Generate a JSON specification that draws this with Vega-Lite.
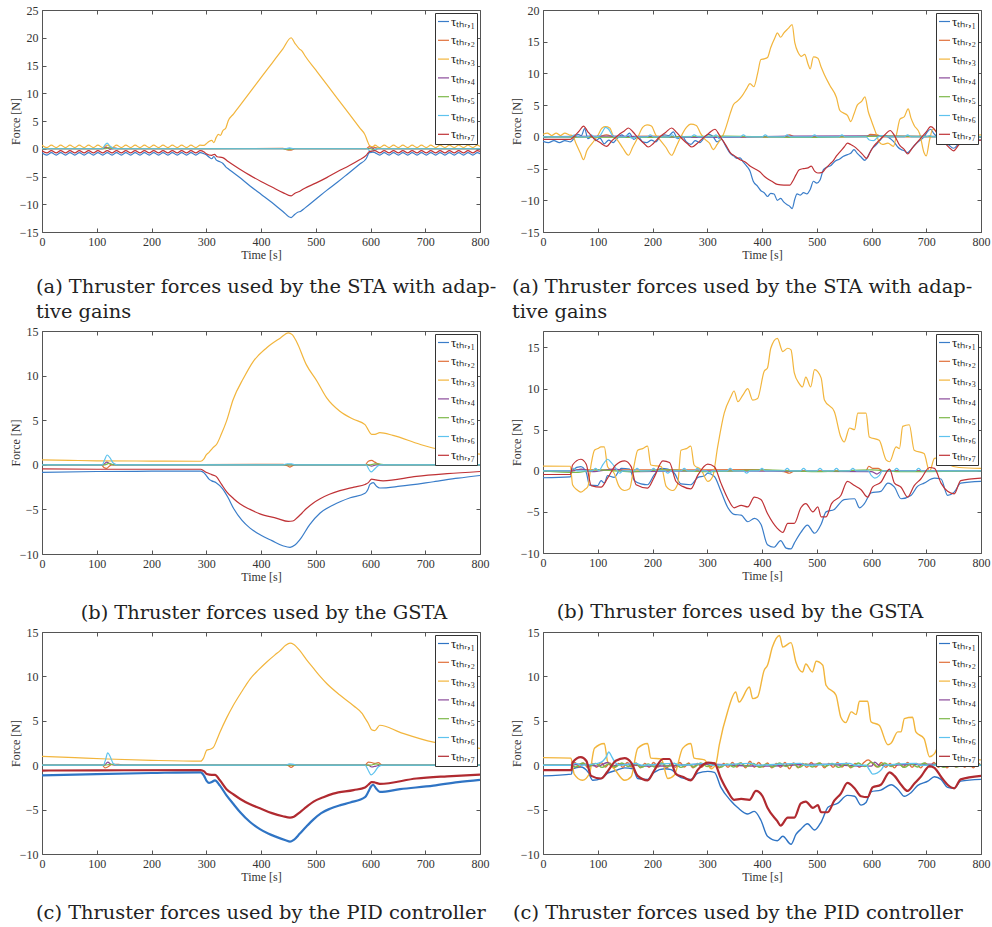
{
 "$schema": "https://vega.github.io/schema/vega-lite/v6.json",
 "background": "white",
 "padding": {"left": 8, "top": 3, "right": 2, "bottom": 2},
 "spacing": 2,
 "resolve": {"scale": {"color": "independent"}, "legend": {"color": "independent"}},
 "config": {
  "font": "Liberation Serif",
  "view": {"stroke": "#555", "strokeWidth": 1},
  "axis": {"domain": false, "grid": false, "ticks": true, "tickSize": -4, "tickColor": "#555", "tickWidth": 1, "labelFont": "Liberation Serif", "labelFontSize": 12, "labelColor": "#333", "labelPadding": 8, "labelFlush": false, "labelBound": false, "labelOverlap": false, "titleFont": "Liberation Serif", "titleFontSize": 12, "titleFontWeight": "normal", "titleColor": "#333"},
  "axisX": {"titlePadding": 2},
  "axisY": {"titlePadding": -3},
  "legend": {"orient": "top-right", "offset": 3, "padding": 2, "strokeColor": "#333", "fillColor": "white", "symbolType": "stroke", "symbolSize": 121, "symbolStrokeWidth": 1.3, "labelFont": "Liberation Serif", "labelFontSize": 13, "labelColor": "#222", "labelOffset": 1, "rowPadding": 4.8, "title": null},
  "title": {"font": "DejaVu Serif", "fontSize": 19.4, "fontWeight": "normal", "color": "#222", "frame": "group", "orient": "bottom", "offset": 22, "lineHeight": 25},
  "line": {"interpolate": "monotone", "strokeWidth": 1.2}
 },
 "datasets": {
  "p1": [
   {"s":"1","t":0,"f":-0.7},{"s":"1","t":9,"f":-1.15},{"s":"1","t":17,"f":-0.7},{"s":"1","t":26,"f":-1.15},{"s":"1","t":34,"f":-0.7},{"s":"1","t":43,"f":-1.15},{"s":"1","t":51,"f":-0.7},{"s":"1","t":60,"f":-1.15},{"s":"1","t":68,"f":-0.7},{"s":"1","t":77,"f":-1.15},{"s":"1","t":85,"f":-0.7},{"s":"1","t":94,"f":-1.15},{"s":"1","t":102,"f":-0.7},{"s":"1","t":111,"f":-1.15},{"s":"1","t":119,"f":-0.7},{"s":"1","t":128,"f":-1.15},{"s":"1","t":136,"f":-0.7},{"s":"1","t":145,"f":-1.15},{"s":"1","t":153,"f":-0.7},{"s":"1","t":162,"f":-1.15},{"s":"1","t":170,"f":-0.7},{"s":"1","t":179,"f":-1.15},{"s":"1","t":187,"f":-0.7},{"s":"1","t":196,"f":-1.15},{"s":"1","t":204,"f":-0.7},{"s":"1","t":213,"f":-1.15},{"s":"1","t":221,"f":-0.7},{"s":"1","t":230,"f":-1.15},{"s":"1","t":238,"f":-0.7},{"s":"1","t":247,"f":-1.15},{"s":"1","t":255,"f":-0.7},{"s":"1","t":264,"f":-1.15},{"s":"1","t":272,"f":-0.7},{"s":"1","t":281,"f":-1.15},{"s":"1","t":289,"f":-0.7},{"s":"1","t":296,"f":-0.9},{"s":"1","t":300,"f":-1.1},{"s":"1","t":305,"f":-1.5},{"s":"1","t":310,"f":-1.8},{"s":"1","t":314,"f":-1.4},{"s":"1","t":318,"f":-2.0},{"s":"1","t":324,"f":-2.3},{"s":"1","t":330,"f":-2.6},{"s":"1","t":336,"f":-3.3},{"s":"1","t":340,"f":-3.6},{"s":"1","t":360,"f":-5.1},{"s":"1","t":380,"f":-6.7},{"s":"1","t":400,"f":-8.2},{"s":"1","t":420,"f":-9.7},{"s":"1","t":440,"f":-11.3},{"s":"1","t":455,"f":-12.4},{"s":"1","t":462,"f":-11.8},{"s":"1","t":468,"f":-11.4},{"s":"1","t":472,"f":-11.3},{"s":"1","t":480,"f":-10.7},{"s":"1","t":500,"f":-9.1},{"s":"1","t":520,"f":-7.5},{"s":"1","t":540,"f":-6.0},{"s":"1","t":560,"f":-4.4},{"s":"1","t":580,"f":-2.8},{"s":"1","t":592,"f":-1.8},{"s":"1","t":598,"f":-0.7},{"s":"1","t":604,"f":-0.6},{"s":"1","t":608,"f":-0.7},{"s":"1","t":617,"f":-1.15},{"s":"1","t":625,"f":-0.7},{"s":"1","t":634,"f":-1.15},{"s":"1","t":642,"f":-0.7},{"s":"1","t":651,"f":-1.15},{"s":"1","t":659,"f":-0.7},{"s":"1","t":668,"f":-1.15},{"s":"1","t":676,"f":-0.7},{"s":"1","t":685,"f":-1.15},{"s":"1","t":693,"f":-0.7},{"s":"1","t":702,"f":-1.15},{"s":"1","t":710,"f":-0.7},{"s":"1","t":719,"f":-1.15},{"s":"1","t":727,"f":-0.7},{"s":"1","t":736,"f":-1.15},{"s":"1","t":744,"f":-0.7},{"s":"1","t":753,"f":-1.15},{"s":"1","t":761,"f":-0.7},{"s":"1","t":770,"f":-1.15},{"s":"1","t":778,"f":-0.7},{"s":"1","t":787,"f":-1.15},{"s":"1","t":795,"f":-0.7},{"s":"1","t":800,"f":-0.9},
   {"s":"2","t":0,"f":0},{"s":"2","t":110,"f":0},{"s":"2","t":116,"f":0.35},{"s":"2","t":122,"f":0.1},{"s":"2","t":130,"f":0.2},{"s":"2","t":140,"f":0},{"s":"2","t":440,"f":0.05},{"s":"2","t":448,"f":-0.2},{"s":"2","t":455,"f":-0.25},{"s":"2","t":462,"f":0},{"s":"2","t":592,"f":0},{"s":"2","t":598,"f":0.4},{"s":"2","t":606,"f":0.3},{"s":"2","t":612,"f":0.1},{"s":"2","t":620,"f":0},{"s":"2","t":800,"f":0},
   {"s":"3","t":0,"f":0.65},{"s":"3","t":9,"f":0.2},{"s":"3","t":17,"f":0.65},{"s":"3","t":26,"f":0.2},{"s":"3","t":34,"f":0.65},{"s":"3","t":43,"f":0.2},{"s":"3","t":51,"f":0.65},{"s":"3","t":60,"f":0.2},{"s":"3","t":68,"f":0.65},{"s":"3","t":77,"f":0.2},{"s":"3","t":85,"f":0.65},{"s":"3","t":94,"f":0.2},{"s":"3","t":102,"f":0.65},{"s":"3","t":111,"f":0.2},{"s":"3","t":119,"f":0.65},{"s":"3","t":128,"f":0.2},{"s":"3","t":136,"f":0.65},{"s":"3","t":145,"f":0.2},{"s":"3","t":153,"f":0.65},{"s":"3","t":162,"f":0.2},{"s":"3","t":170,"f":0.65},{"s":"3","t":179,"f":0.2},{"s":"3","t":187,"f":0.65},{"s":"3","t":196,"f":0.2},{"s":"3","t":204,"f":0.65},{"s":"3","t":213,"f":0.2},{"s":"3","t":221,"f":0.65},{"s":"3","t":230,"f":0.2},{"s":"3","t":238,"f":0.65},{"s":"3","t":247,"f":0.2},{"s":"3","t":255,"f":0.65},{"s":"3","t":264,"f":0.2},{"s":"3","t":272,"f":0.65},{"s":"3","t":281,"f":0.2},{"s":"3","t":289,"f":0.65},{"s":"3","t":296,"f":0.6},{"s":"3","t":300,"f":0.9},{"s":"3","t":305,"f":1.3},{"s":"3","t":310,"f":1.5},{"s":"3","t":314,"f":1.1},{"s":"3","t":318,"f":2.0},{"s":"3","t":322,"f":2.6},{"s":"3","t":326,"f":2.4},{"s":"3","t":330,"f":3.2},{"s":"3","t":336,"f":3.8},{"s":"3","t":340,"f":5.0},{"s":"3","t":350,"f":6.3},{"s":"3","t":360,"f":7.6},{"s":"3","t":380,"f":10.2},{"s":"3","t":400,"f":12.8},{"s":"3","t":420,"f":15.4},{"s":"3","t":440,"f":18.0},{"s":"3","t":455,"f":20.0},{"s":"3","t":462,"f":19.0},{"s":"3","t":470,"f":18.0},{"s":"3","t":475,"f":17.6},{"s":"3","t":480,"f":16.8},{"s":"3","t":500,"f":14.2},{"s":"3","t":520,"f":11.6},{"s":"3","t":540,"f":9.0},{"s":"3","t":560,"f":6.4},{"s":"3","t":580,"f":3.8},{"s":"3","t":590,"f":2.5},{"s":"3","t":594,"f":1.5},{"s":"3","t":598,"f":0.6},{"s":"3","t":604,"f":0.3},{"s":"3","t":608,"f":0.65},{"s":"3","t":617,"f":0.2},{"s":"3","t":625,"f":0.65},{"s":"3","t":634,"f":0.2},{"s":"3","t":642,"f":0.65},{"s":"3","t":651,"f":0.2},{"s":"3","t":659,"f":0.65},{"s":"3","t":668,"f":0.2},{"s":"3","t":676,"f":0.65},{"s":"3","t":685,"f":0.2},{"s":"3","t":693,"f":0.65},{"s":"3","t":702,"f":0.2},{"s":"3","t":710,"f":0.65},{"s":"3","t":719,"f":0.2},{"s":"3","t":727,"f":0.65},{"s":"3","t":736,"f":0.2},{"s":"3","t":744,"f":0.65},{"s":"3","t":753,"f":0.2},{"s":"3","t":761,"f":0.65},{"s":"3","t":770,"f":0.2},{"s":"3","t":778,"f":0.65},{"s":"3","t":787,"f":0.2},{"s":"3","t":795,"f":0.65},{"s":"3","t":800,"f":0.4},
   {"s":"4","t":0,"f":0},{"s":"4","t":112,"f":0},{"s":"4","t":118,"f":0.25},{"s":"4","t":124,"f":-0.1},{"s":"4","t":132,"f":0},{"s":"4","t":595,"f":0},{"s":"4","t":602,"f":0.15},{"s":"4","t":608,"f":-0.1},{"s":"4","t":616,"f":0},{"s":"4","t":800,"f":0},
   {"s":"5","t":0,"f":0},{"s":"5","t":115,"f":0},{"s":"5","t":122,"f":0.2},{"s":"5","t":130,"f":0},{"s":"5","t":440,"f":0},{"s":"5","t":450,"f":-0.15},{"s":"5","t":460,"f":0},{"s":"5","t":600,"f":0},{"s":"5","t":606,"f":-0.2},{"s":"5","t":615,"f":0.1},{"s":"5","t":625,"f":0},{"s":"5","t":800,"f":0},
   {"s":"6","t":0,"f":0},{"s":"6","t":110,"f":0},{"s":"6","t":115,"f":0.7},{"s":"6","t":119,"f":1.0},{"s":"6","t":124,"f":0.5},{"s":"6","t":130,"f":0.1},{"s":"6","t":140,"f":0},{"s":"6","t":445,"f":0},{"s":"6","t":452,"f":0.15},{"s":"6","t":460,"f":0},{"s":"6","t":594,"f":0},{"s":"6","t":600,"f":-0.5},{"s":"6","t":606,"f":-0.3},{"s":"6","t":612,"f":0},{"s":"6","t":800,"f":0},
   {"s":"7","t":0,"f":-0.35},{"s":"7","t":9,"f":-0.75},{"s":"7","t":17,"f":-0.35},{"s":"7","t":26,"f":-0.75},{"s":"7","t":34,"f":-0.35},{"s":"7","t":43,"f":-0.75},{"s":"7","t":51,"f":-0.35},{"s":"7","t":60,"f":-0.75},{"s":"7","t":68,"f":-0.35},{"s":"7","t":77,"f":-0.75},{"s":"7","t":85,"f":-0.35},{"s":"7","t":94,"f":-0.75},{"s":"7","t":102,"f":-0.35},{"s":"7","t":111,"f":-0.75},{"s":"7","t":119,"f":-0.35},{"s":"7","t":128,"f":-0.75},{"s":"7","t":136,"f":-0.35},{"s":"7","t":145,"f":-0.75},{"s":"7","t":153,"f":-0.35},{"s":"7","t":162,"f":-0.75},{"s":"7","t":170,"f":-0.35},{"s":"7","t":179,"f":-0.75},{"s":"7","t":187,"f":-0.35},{"s":"7","t":196,"f":-0.75},{"s":"7","t":204,"f":-0.35},{"s":"7","t":213,"f":-0.75},{"s":"7","t":221,"f":-0.35},{"s":"7","t":230,"f":-0.75},{"s":"7","t":238,"f":-0.35},{"s":"7","t":247,"f":-0.75},{"s":"7","t":255,"f":-0.35},{"s":"7","t":264,"f":-0.75},{"s":"7","t":272,"f":-0.35},{"s":"7","t":281,"f":-0.75},{"s":"7","t":289,"f":-0.35},{"s":"7","t":296,"f":-0.6},{"s":"7","t":300,"f":-0.9},{"s":"7","t":310,"f":-1.2},{"s":"7","t":315,"f":-1.0},{"s":"7","t":320,"f":-1.45},{"s":"7","t":330,"f":-1.6},{"s":"7","t":340,"f":-2.3},{"s":"7","t":360,"f":-3.6},{"s":"7","t":380,"f":-4.8},{"s":"7","t":400,"f":-5.9},{"s":"7","t":420,"f":-6.9},{"s":"7","t":440,"f":-7.9},{"s":"7","t":455,"f":-8.5},{"s":"7","t":462,"f":-8.0},{"s":"7","t":470,"f":-7.7},{"s":"7","t":480,"f":-7.1},{"s":"7","t":500,"f":-6.2},{"s":"7","t":520,"f":-5.2},{"s":"7","t":540,"f":-4.1},{"s":"7","t":560,"f":-3.1},{"s":"7","t":580,"f":-2.0},{"s":"7","t":592,"f":-1.2},{"s":"7","t":598,"f":-0.5},{"s":"7","t":604,"f":-0.4},{"s":"7","t":608,"f":-0.35},{"s":"7","t":617,"f":-0.75},{"s":"7","t":625,"f":-0.35},{"s":"7","t":634,"f":-0.75},{"s":"7","t":642,"f":-0.35},{"s":"7","t":651,"f":-0.75},{"s":"7","t":659,"f":-0.35},{"s":"7","t":668,"f":-0.75},{"s":"7","t":676,"f":-0.35},{"s":"7","t":685,"f":-0.75},{"s":"7","t":693,"f":-0.35},{"s":"7","t":702,"f":-0.75},{"s":"7","t":710,"f":-0.35},{"s":"7","t":719,"f":-0.75},{"s":"7","t":727,"f":-0.35},{"s":"7","t":736,"f":-0.75},{"s":"7","t":744,"f":-0.35},{"s":"7","t":753,"f":-0.75},{"s":"7","t":761,"f":-0.35},{"s":"7","t":770,"f":-0.75},{"s":"7","t":778,"f":-0.35},{"s":"7","t":787,"f":-0.75},{"s":"7","t":795,"f":-0.35},{"s":"7","t":800,"f":-0.5}
  ],
  "p2": [
   {"s":"1","t":0,"f":-0.7},{"s":"1","t":10,"f":-0.9},{"s":"1","t":20,"f":-0.6},{"s":"1","t":30,"f":-0.9},{"s":"1","t":40,"f":-0.6},{"s":"1","t":50,"f":-0.8},{"s":"1","t":56,"f":-0.3},{"s":"1","t":64,"f":0.4},{"s":"1","t":70,"f":0.2},{"s":"1","t":76,"f":1.3},{"s":"1","t":82,"f":-0.3},{"s":"1","t":90,"f":0.1},{"s":"1","t":96,"f":-0.6},{"s":"1","t":104,"f":-0.2},{"s":"1","t":112,"f":-1.1},{"s":"1","t":120,"f":-0.5},{"s":"1","t":128,"f":-0.9},{"s":"1","t":136,"f":-0.2},{"s":"1","t":144,"f":0.3},{"s":"1","t":150,"f":0.0},{"s":"1","t":158,"f":0.6},{"s":"1","t":166,"f":-0.4},{"s":"1","t":174,"f":0.0},{"s":"1","t":182,"f":-0.8},{"s":"1","t":190,"f":-0.9},{"s":"1","t":198,"f":-0.5},{"s":"1","t":206,"f":-0.8},{"s":"1","t":214,"f":0.0},{"s":"1","t":222,"f":0.3},{"s":"1","t":230,"f":0.2},{"s":"1","t":238,"f":0.8},{"s":"1","t":246,"f":-0.3},{"s":"1","t":254,"f":0.1},{"s":"1","t":262,"f":-0.8},{"s":"1","t":270,"f":-1.2},{"s":"1","t":278,"f":-0.6},{"s":"1","t":286,"f":-0.9},{"s":"1","t":294,"f":-0.2},{"s":"1","t":302,"f":0.4},{"s":"1","t":310,"f":0.1},{"s":"1","t":318,"f":-0.8},{"s":"1","t":326,"f":-0.4},{"s":"1","t":334,"f":-1.5},{"s":"1","t":342,"f":-2.6},{"s":"1","t":348,"f":-3.0},{"s":"1","t":354,"f":-3.4},{"s":"1","t":360,"f":-3.3},{"s":"1","t":366,"f":-4.0},{"s":"1","t":372,"f":-4.6},{"s":"1","t":378,"f":-5.4},{"s":"1","t":384,"f":-7.0},{"s":"1","t":392,"f":-7.8},{"s":"1","t":398,"f":-8.5},{"s":"1","t":404,"f":-8.8},{"s":"1","t":410,"f":-9.4},{"s":"1","t":416,"f":-8.9},{"s":"1","t":422,"f":-9.0},{"s":"1","t":428,"f":-10.0},{"s":"1","t":434,"f":-9.7},{"s":"1","t":440,"f":-10.3},{"s":"1","t":446,"f":-10.7},{"s":"1","t":450,"f":-10.9},{"s":"1","t":455,"f":-11.3},{"s":"1","t":460,"f":-9.8},{"s":"1","t":464,"f":-9.0},{"s":"1","t":470,"f":-9.2},{"s":"1","t":476,"f":-8.8},{"s":"1","t":482,"f":-9.0},{"s":"1","t":488,"f":-8.3},{"s":"1","t":494,"f":-7.0},{"s":"1","t":500,"f":-7.3},{"s":"1","t":506,"f":-6.8},{"s":"1","t":512,"f":-5.2},{"s":"1","t":518,"f":-4.8},{"s":"1","t":526,"f":-4.5},{"s":"1","t":534,"f":-3.8},{"s":"1","t":542,"f":-3.5},{"s":"1","t":548,"f":-3.1},{"s":"1","t":556,"f":-2.8},{"s":"1","t":562,"f":-2.6},{"s":"1","t":568,"f":-2.0},{"s":"1","t":574,"f":-2.6},{"s":"1","t":580,"f":-3.1},{"s":"1","t":588,"f":-3.7},{"s":"1","t":594,"f":-3.0},{"s":"1","t":600,"f":-2.0},{"s":"1","t":608,"f":-1.3},{"s":"1","t":616,"f":-0.5},{"s":"1","t":624,"f":0.2},{"s":"1","t":630,"f":0.0},{"s":"1","t":636,"f":-0.4},{"s":"1","t":642,"f":-0.9},{"s":"1","t":648,"f":-1.6},{"s":"1","t":654,"f":-2.0},{"s":"1","t":660,"f":-2.2},{"s":"1","t":666,"f":-2.5},{"s":"1","t":672,"f":-2.0},{"s":"1","t":680,"f":-1.2},{"s":"1","t":688,"f":-0.6},{"s":"1","t":696,"f":0.0},{"s":"1","t":702,"f":0.8},{"s":"1","t":708,"f":1.2},{"s":"1","t":714,"f":0.5},{"s":"1","t":720,"f":0.0},{"s":"1","t":730,"f":-0.5},{"s":"1","t":740,"f":-1.2},{"s":"1","t":750,"f":-1.8},{"s":"1","t":760,"f":-1.0},{"s":"1","t":775,"f":-0.5},{"s":"1","t":800,"f":-0.5},
   {"s":"2","t":0,"f":0},{"s":"2","t":100,"f":0},{"s":"2","t":116,"f":0.3},{"s":"2","t":130,"f":0},{"s":"2","t":200,"f":0.1},{"s":"2","t":300,"f":-0.1},{"s":"2","t":440,"f":0},{"s":"2","t":450,"f":0.3},{"s":"2","t":460,"f":0},{"s":"2","t":590,"f":0},{"s":"2","t":598,"f":0.4},{"s":"2","t":610,"f":0.3},{"s":"2","t":620,"f":0},{"s":"2","t":800,"f":0},
   {"s":"3","t":0,"f":0.4},{"s":"3","t":8,"f":0.6},{"s":"3","t":16,"f":0.2},{"s":"3","t":24,"f":0.6},{"s":"3","t":32,"f":0.2},{"s":"3","t":40,"f":0.6},{"s":"3","t":48,"f":0.3},{"s":"3","t":54,"f":0.2},{"s":"3","t":60,"f":-1.0},{"s":"3","t":68,"f":-2.5},{"s":"3","t":74,"f":-3.6},{"s":"3","t":80,"f":-2.2},{"s":"3","t":90,"f":-1.0},{"s":"3","t":100,"f":0.2},{"s":"3","t":108,"f":1.4},{"s":"3","t":114,"f":1.6},{"s":"3","t":122,"f":1.4},{"s":"3","t":128,"f":0.2},{"s":"3","t":136,"f":-0.5},{"s":"3","t":146,"f":-1.8},{"s":"3","t":156,"f":-2.9},{"s":"3","t":164,"f":-1.6},{"s":"3","t":172,"f":-0.3},{"s":"3","t":182,"f":1.5},{"s":"3","t":190,"f":1.9},{"s":"3","t":198,"f":1.7},{"s":"3","t":206,"f":0.3},{"s":"3","t":214,"f":-0.5},{"s":"3","t":224,"f":-1.6},{"s":"3","t":235,"f":-2.9},{"s":"3","t":243,"f":-1.6},{"s":"3","t":250,"f":-0.3},{"s":"3","t":262,"f":1.5},{"s":"3","t":270,"f":2.0},{"s":"3","t":280,"f":1.8},{"s":"3","t":288,"f":0.5},{"s":"3","t":296,"f":-0.4},{"s":"3","t":304,"f":-1.0},{"s":"3","t":311,"f":-2.0},{"s":"3","t":318,"f":-1.2},{"s":"3","t":325,"f":-0.3},{"s":"3","t":330,"f":0.5},{"s":"3","t":336,"f":2.0},{"s":"3","t":342,"f":3.7},{"s":"3","t":348,"f":5.1},{"s":"3","t":356,"f":5.7},{"s":"3","t":364,"f":6.5},{"s":"3","t":372,"f":7.6},{"s":"3","t":378,"f":8.4},{"s":"3","t":385,"f":7.9},{"s":"3","t":392,"f":10.0},{"s":"3","t":398,"f":12.2},{"s":"3","t":404,"f":12.3},{"s":"3","t":410,"f":12.5},{"s":"3","t":416,"f":14.1},{"s":"3","t":424,"f":15.7},{"s":"3","t":428,"f":16.4},{"s":"3","t":434,"f":15.7},{"s":"3","t":440,"f":16.4},{"s":"3","t":448,"f":17.1},{"s":"3","t":455,"f":17.7},{"s":"3","t":460,"f":14.8},{"s":"3","t":466,"f":13.3},{"s":"3","t":472,"f":12.7},{"s":"3","t":478,"f":13.0},{"s":"3","t":484,"f":11.5},{"s":"3","t":488,"f":10.7},{"s":"3","t":494,"f":12.6},{"s":"3","t":502,"f":12.4},{"s":"3","t":508,"f":11.0},{"s":"3","t":514,"f":9.8},{"s":"3","t":524,"f":8.1},{"s":"3","t":536,"f":6.2},{"s":"3","t":542,"f":4.2},{"s":"3","t":548,"f":3.8},{"s":"3","t":556,"f":3.4},{"s":"3","t":562,"f":2.4},{"s":"3","t":568,"f":3.6},{"s":"3","t":574,"f":5.0},{"s":"3","t":582,"f":5.6},{"s":"3","t":588,"f":6.3},{"s":"3","t":594,"f":4.0},{"s":"3","t":600,"f":2.5},{"s":"3","t":608,"f":0.6},{"s":"3","t":614,"f":-0.8},{"s":"3","t":620,"f":-1.2},{"s":"3","t":630,"f":-1.0},{"s":"3","t":640,"f":-1.5},{"s":"3","t":646,"f":0.5},{"s":"3","t":652,"f":2.8},{"s":"3","t":660,"f":3.2},{"s":"3","t":667,"f":4.4},{"s":"3","t":672,"f":3.0},{"s":"3","t":678,"f":1.8},{"s":"3","t":688,"f":0.5},{"s":"3","t":696,"f":-2.5},{"s":"3","t":700,"f":-3.0},{"s":"3","t":706,"f":-0.5},{"s":"3","t":712,"f":1.2},{"s":"3","t":720,"f":0.8},{"s":"3","t":735,"f":0.2},{"s":"3","t":760,"f":0.1},{"s":"3","t":780,"f":0.2},{"s":"3","t":800,"f":0.3},
   {"s":"4","t":0,"f":0},{"s":"4","t":120,"f":0.1},{"s":"4","t":300,"f":-0.1},{"s":"4","t":450,"f":0.1},{"s":"4","t":600,"f":0.15},{"s":"4","t":800,"f":0},
   {"s":"5","t":0,"f":0},{"s":"5","t":150,"f":-0.1},{"s":"5","t":330,"f":0.1},{"s":"5","t":480,"f":-0.1},{"s":"5","t":620,"f":0.1},{"s":"5","t":800,"f":0},
   {"s":"6","t":0,"f":0},{"s":"6","t":50,"f":0},{"s":"6","t":58,"f":0.3},{"s":"6","t":64,"f":0},{"s":"6","t":82,"f":0},{"s":"6","t":88,"f":0.3},{"s":"6","t":94,"f":0},{"s":"6","t":104,"f":0.2},{"s":"6","t":110,"f":1.0},{"s":"6","t":114,"f":1.5},{"s":"6","t":120,"f":1.2},{"s":"6","t":126,"f":0.3},{"s":"6","t":132,"f":0},{"s":"6","t":150,"f":0},{"s":"6","t":156,"f":0.3},{"s":"6","t":162,"f":-0.2},{"s":"6","t":170,"f":0},{"s":"6","t":190,"f":0},{"s":"6","t":196,"f":0.3},{"s":"6","t":202,"f":0},{"s":"6","t":230,"f":0},{"s":"6","t":236,"f":0.3},{"s":"6","t":244,"f":-0.2},{"s":"6","t":252,"f":0},{"s":"6","t":270,"f":0},{"s":"6","t":276,"f":0.3},{"s":"6","t":284,"f":0},{"s":"6","t":310,"f":0},{"s":"6","t":316,"f":0.3},{"s":"6","t":322,"f":-0.3},{"s":"6","t":330,"f":0},{"s":"6","t":360,"f":0},{"s":"6","t":366,"f":0.3},{"s":"6","t":372,"f":0},{"s":"6","t":400,"f":0},{"s":"6","t":406,"f":0.3},{"s":"6","t":412,"f":0},{"s":"6","t":440,"f":0},{"s":"6","t":446,"f":0.3},{"s":"6","t":452,"f":0},{"s":"6","t":490,"f":0},{"s":"6","t":496,"f":0.3},{"s":"6","t":502,"f":0},{"s":"6","t":540,"f":0},{"s":"6","t":546,"f":0.3},{"s":"6","t":552,"f":0},{"s":"6","t":590,"f":0},{"s":"6","t":596,"f":-0.5},{"s":"6","t":604,"f":-0.6},{"s":"6","t":612,"f":0},{"s":"6","t":620,"f":0.2},{"s":"6","t":630,"f":0},{"s":"6","t":660,"f":0},{"s":"6","t":666,"f":0.3},{"s":"6","t":672,"f":0},{"s":"6","t":700,"f":0},{"s":"6","t":706,"f":0.2},{"s":"6","t":712,"f":0},{"s":"6","t":800,"f":0},
   {"s":"7","t":0,"f":-0.4},{"s":"7","t":50,"f":-0.4},{"s":"7","t":56,"f":0.0},{"s":"7","t":66,"f":0.9},{"s":"7","t":74,"f":1.7},{"s":"7","t":82,"f":0.8},{"s":"7","t":92,"f":-0.2},{"s":"7","t":104,"f":-0.9},{"s":"7","t":116,"f":-1.5},{"s":"7","t":126,"f":-0.6},{"s":"7","t":138,"f":0.3},{"s":"7","t":148,"f":0.9},{"s":"7","t":156,"f":1.4},{"s":"7","t":164,"f":0.8},{"s":"7","t":174,"f":-0.2},{"s":"7","t":184,"f":-1.0},{"s":"7","t":192,"f":-1.6},{"s":"7","t":202,"f":-1.0},{"s":"7","t":212,"f":-0.1},{"s":"7","t":224,"f":0.7},{"s":"7","t":235,"f":1.4},{"s":"7","t":244,"f":0.7},{"s":"7","t":254,"f":-0.3},{"s":"7","t":264,"f":-1.1},{"s":"7","t":272,"f":-1.6},{"s":"7","t":282,"f":-1.0},{"s":"7","t":292,"f":-0.2},{"s":"7","t":302,"f":0.5},{"s":"7","t":314,"f":1.2},{"s":"7","t":322,"f":0.3},{"s":"7","t":330,"f":-0.8},{"s":"7","t":336,"f":-1.6},{"s":"7","t":342,"f":-2.5},{"s":"7","t":350,"f":-3.0},{"s":"7","t":360,"f":-3.6},{"s":"7","t":370,"f":-4.0},{"s":"7","t":378,"f":-4.6},{"s":"7","t":386,"f":-5.0},{"s":"7","t":396,"f":-5.5},{"s":"7","t":404,"f":-6.2},{"s":"7","t":410,"f":-6.6},{"s":"7","t":418,"f":-7.0},{"s":"7","t":428,"f":-7.5},{"s":"7","t":440,"f":-7.6},{"s":"7","t":451,"f":-7.6},{"s":"7","t":456,"f":-7.0},{"s":"7","t":462,"f":-6.0},{"s":"7","t":468,"f":-5.2},{"s":"7","t":476,"f":-5.0},{"s":"7","t":484,"f":-4.9},{"s":"7","t":490,"f":-4.6},{"s":"7","t":496,"f":-5.4},{"s":"7","t":502,"f":-5.7},{"s":"7","t":510,"f":-5.6},{"s":"7","t":516,"f":-5.0},{"s":"7","t":524,"f":-4.3},{"s":"7","t":530,"f":-3.8},{"s":"7","t":536,"f":-3.0},{"s":"7","t":542,"f":-2.4},{"s":"7","t":550,"f":-1.6},{"s":"7","t":556,"f":-1.0},{"s":"7","t":562,"f":-1.2},{"s":"7","t":568,"f":-1.5},{"s":"7","t":576,"f":-2.1},{"s":"7","t":584,"f":-2.8},{"s":"7","t":591,"f":-3.4},{"s":"7","t":597,"f":-2.5},{"s":"7","t":603,"f":-1.6},{"s":"7","t":610,"f":-0.9},{"s":"7","t":616,"f":-0.4},{"s":"7","t":624,"f":0.3},{"s":"7","t":634,"f":1.0},{"s":"7","t":642,"f":0.2},{"s":"7","t":652,"f":-1.4},{"s":"7","t":660,"f":-2.0},{"s":"7","t":666,"f":-2.7},{"s":"7","t":674,"f":-1.8},{"s":"7","t":682,"f":-1.0},{"s":"7","t":692,"f":0.0},{"s":"7","t":700,"f":0.8},{"s":"7","t":708,"f":1.6},{"s":"7","t":714,"f":1.3},{"s":"7","t":722,"f":0.2},{"s":"7","t":732,"f":-0.8},{"s":"7","t":742,"f":-1.7},{"s":"7","t":750,"f":-2.2},{"s":"7","t":760,"f":-1.2},{"s":"7","t":775,"f":-0.6},{"s":"7","t":800,"f":-0.5}
  ],
  "p3": [
   {"s":"1","t":0,"f":-0.85},{"s":"1","t":100,"f":-0.75},{"s":"1","t":200,"f":-0.72},{"s":"1","t":290,"f":-0.7},{"s":"1","t":296,"f":-0.9},{"s":"1","t":300,"f":-1.2},{"s":"1","t":305,"f":-1.6},{"s":"1","t":310,"f":-1.8},{"s":"1","t":318,"f":-2.0},{"s":"1","t":330,"f":-2.7},{"s":"1","t":340,"f":-3.7},{"s":"1","t":350,"f":-4.9},{"s":"1","t":365,"f":-6.2},{"s":"1","t":380,"f":-7.1},{"s":"1","t":400,"f":-7.9},{"s":"1","t":420,"f":-8.5},{"s":"1","t":441,"f":-9.1},{"s":"1","t":453,"f":-9.25},{"s":"1","t":462,"f":-9.0},{"s":"1","t":471,"f":-8.4},{"s":"1","t":489,"f":-6.7},{"s":"1","t":508,"f":-5.4},{"s":"1","t":532,"f":-4.5},{"s":"1","t":563,"f":-3.7},{"s":"1","t":590,"f":-3.2},{"s":"1","t":595,"f":-2.8},{"s":"1","t":599,"f":-2.2},{"s":"1","t":605,"f":-2.0},{"s":"1","t":611,"f":-2.4},{"s":"1","t":617,"f":-2.6},{"s":"1","t":654,"f":-2.4},{"s":"1","t":715,"f":-1.9},{"s":"1","t":760,"f":-1.5},{"s":"1","t":800,"f":-1.2},
   {"s":"2","t":0,"f":0},{"s":"2","t":108,"f":0},{"s":"2","t":113,"f":-0.3},{"s":"2","t":118,"f":-0.4},{"s":"2","t":124,"f":-0.1},{"s":"2","t":132,"f":0.05},{"s":"2","t":140,"f":0},{"s":"2","t":440,"f":0.05},{"s":"2","t":448,"f":-0.1},{"s":"2","t":453,"f":-0.25},{"s":"2","t":460,"f":-0.05},{"s":"2","t":468,"f":0},{"s":"2","t":590,"f":0},{"s":"2","t":596,"f":0.4},{"s":"2","t":602,"f":0.5},{"s":"2","t":608,"f":0.3},{"s":"2","t":614,"f":0.1},{"s":"2","t":622,"f":0},{"s":"2","t":800,"f":0},
   {"s":"3","t":0,"f":0.55},{"s":"3","t":50,"f":0.5},{"s":"3","t":100,"f":0.45},{"s":"3","t":200,"f":0.42},{"s":"3","t":290,"f":0.4},{"s":"3","t":295,"f":0.6},{"s":"3","t":300,"f":1.1},{"s":"3","t":305,"f":1.4},{"s":"3","t":312,"f":1.9},{"s":"3","t":319,"f":2.3},{"s":"3","t":328,"f":3.5},{"s":"3","t":337,"f":4.9},{"s":"3","t":349,"f":7.3},{"s":"3","t":368,"f":9.7},{"s":"3","t":386,"f":11.6},{"s":"3","t":410,"f":13.1},{"s":"3","t":435,"f":14.2},{"s":"3","t":450,"f":14.8},{"s":"3","t":457,"f":14.6},{"s":"3","t":465,"f":13.8},{"s":"3","t":483,"f":11.2},{"s":"3","t":502,"f":9.4},{"s":"3","t":520,"f":7.5},{"s":"3","t":544,"f":6.0},{"s":"3","t":569,"f":5.1},{"s":"3","t":590,"f":4.5},{"s":"3","t":596,"f":3.9},{"s":"3","t":602,"f":3.4},{"s":"3","t":608,"f":3.4},{"s":"3","t":617,"f":3.6},{"s":"3","t":641,"f":3.3},{"s":"3","t":690,"f":2.3},{"s":"3","t":727,"f":1.7},{"s":"3","t":760,"f":1.4},{"s":"3","t":800,"f":1.2},
   {"s":"4","t":0,"f":0},{"s":"4","t":112,"f":0},{"s":"4","t":118,"f":0.3},{"s":"4","t":124,"f":0.1},{"s":"4","t":130,"f":0},{"s":"4","t":595,"f":0},{"s":"4","t":602,"f":-0.15},{"s":"4","t":610,"f":0},{"s":"4","t":800,"f":0},
   {"s":"5","t":0,"f":0},{"s":"5","t":115,"f":0},{"s":"5","t":122,"f":0.15},{"s":"5","t":130,"f":0},{"s":"5","t":600,"f":0},{"s":"5","t":608,"f":0.1},{"s":"5","t":620,"f":0.05},{"s":"5","t":630,"f":0},{"s":"5","t":800,"f":0},
   {"s":"6","t":0,"f":0},{"s":"6","t":110,"f":0},{"s":"6","t":114,"f":0.5},{"s":"6","t":119,"f":1.1},{"s":"6","t":124,"f":0.8},{"s":"6","t":130,"f":0.2},{"s":"6","t":138,"f":0},{"s":"6","t":440,"f":0},{"s":"6","t":448,"f":0.12},{"s":"6","t":456,"f":0.1},{"s":"6","t":462,"f":0},{"s":"6","t":592,"f":0},{"s":"6","t":597,"f":-0.5},{"s":"6","t":601,"f":-0.8},{"s":"6","t":607,"f":-0.5},{"s":"6","t":614,"f":-0.1},{"s":"6","t":620,"f":0},{"s":"6","t":800,"f":0},
   {"s":"7","t":0,"f":-0.45},{"s":"7","t":100,"f":-0.5},{"s":"7","t":290,"f":-0.5},{"s":"7","t":296,"f":-0.7},{"s":"7","t":302,"f":-0.9},{"s":"7","t":310,"f":-1.1},{"s":"7","t":318,"f":-1.3},{"s":"7","t":328,"f":-2.2},{"s":"7","t":337,"f":-3.0},{"s":"7","t":350,"f":-3.8},{"s":"7","t":362,"f":-4.4},{"s":"7","t":380,"f":-5.0},{"s":"7","t":398,"f":-5.5},{"s":"7","t":429,"f":-6.0},{"s":"7","t":450,"f":-6.35},{"s":"7","t":458,"f":-6.3},{"s":"7","t":465,"f":-6.0},{"s":"7","t":475,"f":-5.4},{"s":"7","t":483,"f":-4.9},{"s":"7","t":495,"f":-4.3},{"s":"7","t":508,"f":-3.8},{"s":"7","t":525,"f":-3.3},{"s":"7","t":544,"f":-2.9},{"s":"7","t":570,"f":-2.5},{"s":"7","t":590,"f":-2.2},{"s":"7","t":596,"f":-2.0},{"s":"7","t":602,"f":-1.6},{"s":"7","t":610,"f":-1.7},{"s":"7","t":623,"f":-1.8},{"s":"7","t":684,"f":-1.3},{"s":"7","t":740,"f":-1.0},{"s":"7","t":800,"f":-0.75}
  ],
  "p4": [
   {"s":"1","t":0,"f":-0.85},{"s":"1","t":50,"f":-0.75},{"s":"1","t":54,"f":0.1},{"s":"1","t":69,"f":0.5},{"s":"1","t":79,"f":-0.2},{"s":"1","t":85,"f":-1.75},{"s":"1","t":100,"f":-1.8},{"s":"1","t":106,"f":-1.2},{"s":"1","t":112,"f":-1.5},{"s":"1","t":118,"f":-0.6},{"s":"1","t":130,"f":-0.8},{"s":"1","t":143,"f":0.3},{"s":"1","t":158,"f":0.2},{"s":"1","t":167,"f":-1.2},{"s":"1","t":179,"f":-1.6},{"s":"1","t":191,"f":-1.7},{"s":"1","t":203,"f":-0.5},{"s":"1","t":216,"f":0.3},{"s":"1","t":228,"f":0.2},{"s":"1","t":240,"f":-0.3},{"s":"1","t":252,"f":-1.6},{"s":"1","t":270,"f":-1.7},{"s":"1","t":283,"f":-0.8},{"s":"1","t":295,"f":-0.6},{"s":"1","t":301,"f":-0.3},{"s":"1","t":313,"f":-0.7},{"s":"1","t":325,"f":-2.5},{"s":"1","t":337,"f":-4.4},{"s":"1","t":349,"f":-5.3},{"s":"1","t":362,"f":-5.4},{"s":"1","t":374,"f":-6.2},{"s":"1","t":386,"f":-5.8},{"s":"1","t":398,"f":-6.5},{"s":"1","t":410,"f":-9.0},{"s":"1","t":422,"f":-9.3},{"s":"1","t":434,"f":-8.5},{"s":"1","t":444,"f":-9.4},{"s":"1","t":453,"f":-9.5},{"s":"1","t":459,"f":-8.8},{"s":"1","t":471,"f":-7.5},{"s":"1","t":483,"f":-6.6},{"s":"1","t":496,"f":-7.6},{"s":"1","t":508,"f":-6.5},{"s":"1","t":517,"f":-5.0},{"s":"1","t":532,"f":-4.7},{"s":"1","t":550,"f":-3.5},{"s":"1","t":569,"f":-3.4},{"s":"1","t":578,"f":-4.5},{"s":"1","t":587,"f":-4.0},{"s":"1","t":599,"f":-2.7},{"s":"1","t":617,"f":-2.5},{"s":"1","t":630,"f":-1.5},{"s":"1","t":642,"f":-2.0},{"s":"1","t":654,"f":-3.4},{"s":"1","t":672,"f":-3.0},{"s":"1","t":684,"f":-1.9},{"s":"1","t":696,"f":-1.5},{"s":"1","t":715,"f":-0.9},{"s":"1","t":727,"f":-1.0},{"s":"1","t":739,"f":-3.0},{"s":"1","t":751,"f":-2.6},{"s":"1","t":763,"f":-1.5},{"s":"1","t":800,"f":-1.3},
   {"s":"2","t":0,"f":0},{"s":"2","t":50,"f":0},{"s":"2","t":60,"f":0.15},{"s":"2","t":120,"f":0.1},{"s":"2","t":200,"f":0.1},{"s":"2","t":380,"f":0.15},{"s":"2","t":440,"f":-0.1},{"s":"2","t":450,"f":-0.3},{"s":"2","t":460,"f":0},{"s":"2","t":590,"f":0},{"s":"2","t":595,"f":0.55},{"s":"2","t":602,"f":0.3},{"s":"2","t":612,"f":0.3},{"s":"2","t":620,"f":0},{"s":"2","t":800,"f":0},
   {"s":"3","t":0,"f":0.57},{"s":"3","t":50,"f":0.55},{"s":"3","t":54,"f":-1.7},{"s":"3","t":62,"f":-2.3},{"s":"3","t":69,"f":-2.6},{"s":"3","t":76,"f":-2.3},{"s":"3","t":82,"f":-1.9},{"s":"3","t":88,"f":0.8},{"s":"3","t":94,"f":2.5},{"s":"3","t":100,"f":2.7},{"s":"3","t":106,"f":2.9},{"s":"3","t":112,"f":2.9},{"s":"3","t":118,"f":0.5},{"s":"3","t":130,"f":-0.3},{"s":"3","t":139,"f":-1.9},{"s":"3","t":149,"f":-2.4},{"s":"3","t":158,"f":-2.2},{"s":"3","t":166,"f":0.5},{"s":"3","t":173,"f":2.5},{"s":"3","t":182,"f":2.7},{"s":"3","t":191,"f":3.0},{"s":"3","t":197,"f":0.7},{"s":"3","t":216,"f":0.5},{"s":"3","t":225,"f":-1.9},{"s":"3","t":237,"f":-2.4},{"s":"3","t":246,"f":-1.6},{"s":"3","t":252,"f":2.5},{"s":"3","t":262,"f":2.7},{"s":"3","t":270,"f":3.0},{"s":"3","t":276,"f":0.7},{"s":"3","t":289,"f":0.1},{"s":"3","t":301,"f":-1.3},{"s":"3","t":310,"f":-0.7},{"s":"3","t":319,"f":2.9},{"s":"3","t":331,"f":7.0},{"s":"3","t":343,"f":9.0},{"s":"3","t":349,"f":9.7},{"s":"3","t":356,"f":8.4},{"s":"3","t":365,"f":9.2},{"s":"3","t":374,"f":10.0},{"s":"3","t":383,"f":8.6},{"s":"3","t":392,"f":8.8},{"s":"3","t":404,"f":12.1},{"s":"3","t":410,"f":12.5},{"s":"3","t":416,"f":14.9},{"s":"3","t":428,"f":16.1},{"s":"3","t":438,"f":14.5},{"s":"3","t":447,"f":14.9},{"s":"3","t":453,"f":14.7},{"s":"3","t":459,"f":11.9},{"s":"3","t":468,"f":10.6},{"s":"3","t":474,"f":10.2},{"s":"3","t":480,"f":11.4},{"s":"3","t":489,"f":10.2},{"s":"3","t":496,"f":12.3},{"s":"3","t":508,"f":11.3},{"s":"3","t":514,"f":8.6},{"s":"3","t":532,"f":7.2},{"s":"3","t":544,"f":4.1},{"s":"3","t":550,"f":3.5},{"s":"3","t":560,"f":5.2},{"s":"3","t":569,"f":5.0},{"s":"3","t":575,"f":7.0},{"s":"3","t":590,"f":7.0},{"s":"3","t":596,"f":4.1},{"s":"3","t":614,"f":3.7},{"s":"3","t":627,"f":1.3},{"s":"3","t":633,"f":1.1},{"s":"3","t":645,"f":2.9},{"s":"3","t":651,"f":2.7},{"s":"3","t":657,"f":5.4},{"s":"3","t":669,"f":5.6},{"s":"3","t":678,"f":2.5},{"s":"3","t":696,"f":2.1},{"s":"3","t":706,"f":-0.1},{"s":"3","t":715,"f":1.5},{"s":"3","t":725,"f":1.6},{"s":"3","t":740,"f":0.8},{"s":"3","t":760,"f":0.4},{"s":"3","t":800,"f":0.3},
   {"s":"4","t":0,"f":0},{"s":"4","t":55,"f":0},{"s":"4","t":70,"f":0.2},{"s":"4","t":90,"f":-0.1},{"s":"4","t":130,"f":0.2},{"s":"4","t":160,"f":-0.1},{"s":"4","t":300,"f":0},{"s":"4","t":600,"f":-0.1},{"s":"4","t":610,"f":-0.4},{"s":"4","t":620,"f":0},{"s":"4","t":800,"f":0},
   {"s":"5","t":0,"f":0},{"s":"5","t":60,"f":-0.2},{"s":"5","t":100,"f":0.1},{"s":"5","t":160,"f":-0.1},{"s":"5","t":220,"f":0.1},{"s":"5","t":300,"f":-0.1},{"s":"5","t":400,"f":0.1},{"s":"5","t":500,"f":-0.1},{"s":"5","t":600,"f":0.1},{"s":"5","t":650,"f":-0.1},{"s":"5","t":800,"f":0},
   {"s":"6","t":0,"f":0},{"s":"6","t":50,"f":0},{"s":"6","t":56,"f":0.3},{"s":"6","t":62,"f":0},{"s":"6","t":90,"f":0},{"s":"6","t":96,"f":0.3},{"s":"6","t":102,"f":0},{"s":"6","t":110,"f":0.8},{"s":"6","t":118,"f":1.4},{"s":"6","t":126,"f":0.9},{"s":"6","t":134,"f":0.2},{"s":"6","t":140,"f":-0.3},{"s":"6","t":146,"f":0},{"s":"6","t":166,"f":0},{"s":"6","t":172,"f":0.3},{"s":"6","t":178,"f":0},{"s":"6","t":196,"f":0},{"s":"6","t":202,"f":0.3},{"s":"6","t":208,"f":0},{"s":"6","t":222,"f":0},{"s":"6","t":228,"f":-0.3},{"s":"6","t":234,"f":0},{"s":"6","t":252,"f":0},{"s":"6","t":258,"f":0.3},{"s":"6","t":264,"f":0},{"s":"6","t":276,"f":0},{"s":"6","t":282,"f":0.3},{"s":"6","t":288,"f":0},{"s":"6","t":298,"f":0},{"s":"6","t":304,"f":-0.3},{"s":"6","t":310,"f":0},{"s":"6","t":336,"f":0},{"s":"6","t":342,"f":0.3},{"s":"6","t":348,"f":0},{"s":"6","t":366,"f":0},{"s":"6","t":372,"f":-0.3},{"s":"6","t":378,"f":0},{"s":"6","t":394,"f":0},{"s":"6","t":400,"f":0.3},{"s":"6","t":406,"f":0},{"s":"6","t":440,"f":0},{"s":"6","t":446,"f":0.3},{"s":"6","t":452,"f":0},{"s":"6","t":470,"f":0},{"s":"6","t":476,"f":0.3},{"s":"6","t":482,"f":0},{"s":"6","t":500,"f":0},{"s":"6","t":506,"f":0.3},{"s":"6","t":512,"f":0},{"s":"6","t":530,"f":0},{"s":"6","t":536,"f":0.3},{"s":"6","t":542,"f":0},{"s":"6","t":560,"f":0},{"s":"6","t":566,"f":0.3},{"s":"6","t":572,"f":0},{"s":"6","t":594,"f":0},{"s":"6","t":600,"f":-0.6},{"s":"6","t":606,"f":-0.9},{"s":"6","t":614,"f":-0.6},{"s":"6","t":620,"f":0},{"s":"6","t":640,"f":0},{"s":"6","t":646,"f":0.3},{"s":"6","t":652,"f":0},{"s":"6","t":680,"f":0},{"s":"6","t":686,"f":0.3},{"s":"6","t":692,"f":0},{"s":"6","t":800,"f":0},
   {"s":"7","t":0,"f":-0.45},{"s":"7","t":50,"f":-0.45},{"s":"7","t":54,"f":0.7},{"s":"7","t":69,"f":1.4},{"s":"7","t":79,"f":0.8},{"s":"7","t":88,"f":-1.8},{"s":"7","t":106,"f":-2.0},{"s":"7","t":118,"f":-0.9},{"s":"7","t":133,"f":0.7},{"s":"7","t":149,"f":1.2},{"s":"7","t":161,"f":0.5},{"s":"7","t":170,"f":-1.7},{"s":"7","t":191,"f":-2.1},{"s":"7","t":203,"f":-0.8},{"s":"7","t":219,"f":1.2},{"s":"7","t":231,"f":1.0},{"s":"7","t":243,"f":-1.3},{"s":"7","t":255,"f":-1.9},{"s":"7","t":270,"f":-2.2},{"s":"7","t":283,"f":-0.5},{"s":"7","t":301,"f":0.8},{"s":"7","t":313,"f":0.5},{"s":"7","t":325,"f":-1.5},{"s":"7","t":337,"f":-3.3},{"s":"7","t":349,"f":-4.5},{"s":"7","t":362,"f":-4.2},{"s":"7","t":374,"f":-4.4},{"s":"7","t":386,"f":-3.2},{"s":"7","t":398,"f":-3.5},{"s":"7","t":410,"f":-5.2},{"s":"7","t":428,"f":-7.0},{"s":"7","t":438,"f":-7.5},{"s":"7","t":447,"f":-6.4},{"s":"7","t":459,"f":-6.4},{"s":"7","t":471,"f":-4.5},{"s":"7","t":480,"f":-4.0},{"s":"7","t":493,"f":-5.0},{"s":"7","t":502,"f":-4.4},{"s":"7","t":508,"f":-5.6},{"s":"7","t":517,"f":-5.6},{"s":"7","t":527,"f":-4.0},{"s":"7","t":544,"f":-3.0},{"s":"7","t":556,"f":-1.3},{"s":"7","t":569,"f":-1.8},{"s":"7","t":581,"f":-2.3},{"s":"7","t":593,"f":-3.2},{"s":"7","t":602,"f":-2.0},{"s":"7","t":617,"f":-1.4},{"s":"7","t":633,"f":0.2},{"s":"7","t":642,"f":-1.5},{"s":"7","t":654,"f":-2.0},{"s":"7","t":666,"f":-3.2},{"s":"7","t":678,"f":-1.8},{"s":"7","t":690,"f":-1.0},{"s":"7","t":706,"f":0.4},{"s":"7","t":715,"f":0.3},{"s":"7","t":727,"f":-1.5},{"s":"7","t":739,"f":-2.5},{"s":"7","t":751,"f":-2.8},{"s":"7","t":763,"f":-1.2},{"s":"7","t":800,"f":-0.9}
  ],
  "p5": [
   {"s":"1","t":0,"f":-1.15},{"s":"1","t":100,"f":-1.0},{"s":"1","t":200,"f":-0.88},{"s":"1","t":290,"f":-0.8},{"s":"1","t":296,"f":-1.2},{"s":"1","t":301,"f":-1.8},{"s":"1","t":305,"f":-2.0},{"s":"1","t":310,"f":-1.9},{"s":"1","t":316,"f":-1.7},{"s":"1","t":325,"f":-2.3},{"s":"1","t":337,"f":-3.4},{"s":"1","t":350,"f":-4.4},{"s":"1","t":362,"f":-5.3},{"s":"1","t":380,"f":-6.4},{"s":"1","t":398,"f":-7.2},{"s":"1","t":413,"f":-7.7},{"s":"1","t":429,"f":-8.1},{"s":"1","t":445,"f":-8.45},{"s":"1","t":453,"f":-8.6},{"s":"1","t":460,"f":-8.4},{"s":"1","t":471,"f":-7.7},{"s":"1","t":483,"f":-6.9},{"s":"1","t":496,"f":-6.1},{"s":"1","t":510,"f":-5.4},{"s":"1","t":526,"f":-4.9},{"s":"1","t":545,"f":-4.5},{"s":"1","t":563,"f":-4.2},{"s":"1","t":590,"f":-3.6},{"s":"1","t":596,"f":-3.0},{"s":"1","t":601,"f":-2.4},{"s":"1","t":605,"f":-2.2},{"s":"1","t":610,"f":-2.6},{"s":"1","t":617,"f":-3.0},{"s":"1","t":654,"f":-2.7},{"s":"1","t":715,"f":-2.3},{"s":"1","t":760,"f":-1.9},{"s":"1","t":800,"f":-1.65},
   {"s":"2","t":0,"f":0},{"s":"2","t":110,"f":0},{"s":"2","t":115,"f":-0.3},{"s":"2","t":120,"f":-0.2},{"s":"2","t":128,"f":0.1},{"s":"2","t":140,"f":0.1},{"s":"2","t":150,"f":0},{"s":"2","t":448,"f":0},{"s":"2","t":455,"f":-0.25},{"s":"2","t":462,"f":0},{"s":"2","t":590,"f":0},{"s":"2","t":596,"f":0.35},{"s":"2","t":602,"f":0.3},{"s":"2","t":608,"f":0.2},{"s":"2","t":614,"f":0.3},{"s":"2","t":622,"f":0},{"s":"2","t":800,"f":0},
   {"s":"3","t":0,"f":1.0},{"s":"3","t":60,"f":0.85},{"s":"3","t":120,"f":0.7},{"s":"3","t":200,"f":0.55},{"s":"3","t":290,"f":0.45},{"s":"3","t":295,"f":0.8},{"s":"3","t":301,"f":1.7},{"s":"3","t":307,"f":1.8},{"s":"3","t":313,"f":2.0},{"s":"3","t":319,"f":2.8},{"s":"3","t":325,"f":3.7},{"s":"3","t":337,"f":5.3},{"s":"3","t":349,"f":6.7},{"s":"3","t":365,"f":8.3},{"s":"3","t":380,"f":9.7},{"s":"3","t":395,"f":10.7},{"s":"3","t":410,"f":11.6},{"s":"3","t":425,"f":12.4},{"s":"3","t":435,"f":12.9},{"s":"3","t":445,"f":13.5},{"s":"3","t":453,"f":13.75},{"s":"3","t":460,"f":13.6},{"s":"3","t":471,"f":12.9},{"s":"3","t":483,"f":11.9},{"s":"3","t":496,"f":10.9},{"s":"3","t":508,"f":10.0},{"s":"3","t":520,"f":9.2},{"s":"3","t":544,"f":7.9},{"s":"3","t":569,"f":6.7},{"s":"3","t":585,"f":5.8},{"s":"3","t":590,"f":5.3},{"s":"3","t":596,"f":4.7},{"s":"3","t":602,"f":4.0},{"s":"3","t":608,"f":3.9},{"s":"3","t":617,"f":4.5},{"s":"3","t":654,"f":3.7},{"s":"3","t":715,"f":2.6},{"s":"3","t":760,"f":2.2},{"s":"3","t":800,"f":1.9},
   {"s":"4","t":0,"f":0},{"s":"4","t":114,"f":0},{"s":"4","t":120,"f":0.35},{"s":"4","t":126,"f":0.1},{"s":"4","t":134,"f":0},{"s":"4","t":596,"f":0},{"s":"4","t":602,"f":-0.2},{"s":"4","t":610,"f":-0.1},{"s":"4","t":618,"f":0},{"s":"4","t":800,"f":0},
   {"s":"5","t":0,"f":0},{"s":"5","t":115,"f":0},{"s":"5","t":125,"f":0.1},{"s":"5","t":140,"f":0},{"s":"5","t":600,"f":0},{"s":"5","t":610,"f":0.15},{"s":"5","t":620,"f":0},{"s":"5","t":800,"f":0},
   {"s":"6","t":0,"f":0},{"s":"6","t":112,"f":0},{"s":"6","t":116,"f":0.6},{"s":"6","t":120,"f":1.4},{"s":"6","t":125,"f":0.9},{"s":"6","t":130,"f":0.2},{"s":"6","t":138,"f":0},{"s":"6","t":445,"f":0},{"s":"6","t":452,"f":0.15},{"s":"6","t":460,"f":0.1},{"s":"6","t":466,"f":0},{"s":"6","t":590,"f":0},{"s":"6","t":596,"f":-0.6},{"s":"6","t":601,"f":-1.1},{"s":"6","t":607,"f":-0.8},{"s":"6","t":614,"f":-0.2},{"s":"6","t":622,"f":0},{"s":"6","t":800,"f":0},
   {"s":"7","t":0,"f":-0.6},{"s":"7","t":100,"f":-0.58},{"s":"7","t":290,"f":-0.55},{"s":"7","t":296,"f":-0.7},{"s":"7","t":301,"f":-1.0},{"s":"7","t":310,"f":-1.1},{"s":"7","t":316,"f":-1.1},{"s":"7","t":325,"f":-1.7},{"s":"7","t":337,"f":-2.7},{"s":"7","t":350,"f":-3.3},{"s":"7","t":362,"f":-3.8},{"s":"7","t":380,"f":-4.4},{"s":"7","t":398,"f":-4.85},{"s":"7","t":420,"f":-5.4},{"s":"7","t":440,"f":-5.75},{"s":"7","t":453,"f":-5.9},{"s":"7","t":460,"f":-5.8},{"s":"7","t":471,"f":-5.3},{"s":"7","t":483,"f":-4.7},{"s":"7","t":496,"f":-4.1},{"s":"7","t":514,"f":-3.6},{"s":"7","t":532,"f":-3.2},{"s":"7","t":569,"f":-2.8},{"s":"7","t":590,"f":-2.5},{"s":"7","t":596,"f":-2.2},{"s":"7","t":602,"f":-1.9},{"s":"7","t":608,"f":-1.95},{"s":"7","t":617,"f":-2.1},{"s":"7","t":684,"f":-1.5},{"s":"7","t":740,"f":-1.25},{"s":"7","t":800,"f":-1.05}
  ],
  "p6": [
   {"s":"1","t":0,"f":-1.2},{"s":"1","t":52,"f":-1.0},{"s":"1","t":54,"f":-0.4},{"s":"1","t":69,"f":-0.2},{"s":"1","t":82,"f":-0.75},{"s":"1","t":91,"f":-1.7},{"s":"1","t":106,"f":-1.5},{"s":"1","t":118,"f":-0.9},{"s":"1","t":133,"f":-0.6},{"s":"1","t":149,"f":-0.3},{"s":"1","t":164,"f":-0.4},{"s":"1","t":173,"f":-1.5},{"s":"1","t":191,"f":-1.6},{"s":"1","t":203,"f":-0.8},{"s":"1","t":222,"f":-0.4},{"s":"1","t":234,"f":-0.5},{"s":"1","t":252,"f":-1.4},{"s":"1","t":270,"f":-1.6},{"s":"1","t":283,"f":-0.9},{"s":"1","t":301,"f":-0.7},{"s":"1","t":313,"f":-0.8},{"s":"1","t":325,"f":-2.5},{"s":"1","t":343,"f":-4.0},{"s":"1","t":356,"f":-4.8},{"s":"1","t":374,"f":-5.5},{"s":"1","t":386,"f":-5.2},{"s":"1","t":398,"f":-6.2},{"s":"1","t":410,"f":-8.0},{"s":"1","t":428,"f":-8.5},{"s":"1","t":438,"f":-8.0},{"s":"1","t":453,"f":-8.9},{"s":"1","t":462,"f":-7.8},{"s":"1","t":471,"f":-7.2},{"s":"1","t":483,"f":-6.6},{"s":"1","t":496,"f":-7.3},{"s":"1","t":508,"f":-6.4},{"s":"1","t":521,"f":-4.7},{"s":"1","t":538,"f":-4.3},{"s":"1","t":556,"f":-3.4},{"s":"1","t":569,"f":-3.5},{"s":"1","t":581,"f":-4.5},{"s":"1","t":590,"f":-4.2},{"s":"1","t":599,"f":-3.0},{"s":"1","t":617,"f":-2.8},{"s":"1","t":636,"f":-2.2},{"s":"1","t":648,"f":-2.7},{"s":"1","t":660,"f":-3.5},{"s":"1","t":672,"f":-3.1},{"s":"1","t":684,"f":-2.3},{"s":"1","t":703,"f":-1.8},{"s":"1","t":715,"f":-1.3},{"s":"1","t":727,"f":-1.6},{"s":"1","t":739,"f":-2.5},{"s":"1","t":751,"f":-2.6},{"s":"1","t":763,"f":-1.8},{"s":"1","t":800,"f":-1.6},
   {"s":"2","t":0,"f":0},{"s":"2","t":50,"f":0},{"s":"2","t":58,"f":0.3},{"s":"2","t":66,"f":-0.2},{"s":"2","t":74,"f":0.25},{"s":"2","t":82,"f":-0.3},{"s":"2","t":90,"f":0.2},{"s":"2","t":98,"f":-0.25},{"s":"2","t":106,"f":0.3},{"s":"2","t":114,"f":-0.2},{"s":"2","t":122,"f":0.25},{"s":"2","t":130,"f":-0.3},{"s":"2","t":138,"f":0.2},{"s":"2","t":146,"f":-0.25},{"s":"2","t":154,"f":0.3},{"s":"2","t":162,"f":-0.2},{"s":"2","t":170,"f":0.25},{"s":"2","t":178,"f":-0.3},{"s":"2","t":186,"f":0.2},{"s":"2","t":194,"f":-0.25},{"s":"2","t":202,"f":0.3},{"s":"2","t":210,"f":-0.2},{"s":"2","t":218,"f":0.25},{"s":"2","t":226,"f":-0.3},{"s":"2","t":234,"f":0.2},{"s":"2","t":242,"f":-0.25},{"s":"2","t":250,"f":0.3},{"s":"2","t":258,"f":-0.2},{"s":"2","t":266,"f":0.25},{"s":"2","t":274,"f":-0.3},{"s":"2","t":282,"f":0.2},{"s":"2","t":290,"f":-0.25},{"s":"2","t":298,"f":0.3},{"s":"2","t":306,"f":-0.2},{"s":"2","t":314,"f":0.25},{"s":"2","t":322,"f":-0.3},{"s":"2","t":330,"f":0.2},{"s":"2","t":338,"f":-0.25},{"s":"2","t":346,"f":0.3},{"s":"2","t":354,"f":-0.2},{"s":"2","t":362,"f":0.25},{"s":"2","t":370,"f":-0.3},{"s":"2","t":378,"f":0.45},{"s":"2","t":386,"f":-0.25},{"s":"2","t":394,"f":0.3},{"s":"2","t":402,"f":-0.2},{"s":"2","t":410,"f":0.25},{"s":"2","t":418,"f":-0.3},{"s":"2","t":426,"f":0.2},{"s":"2","t":434,"f":-0.25},{"s":"2","t":442,"f":0.3},{"s":"2","t":450,"f":-0.4},{"s":"2","t":458,"f":0.25},{"s":"2","t":466,"f":-0.3},{"s":"2","t":474,"f":0.2},{"s":"2","t":482,"f":-0.25},{"s":"2","t":490,"f":0.3},{"s":"2","t":498,"f":-0.2},{"s":"2","t":506,"f":0.25},{"s":"2","t":514,"f":-0.3},{"s":"2","t":522,"f":0.2},{"s":"2","t":530,"f":-0.25},{"s":"2","t":538,"f":0.3},{"s":"2","t":546,"f":-0.2},{"s":"2","t":554,"f":0.25},{"s":"2","t":562,"f":-0.3},{"s":"2","t":570,"f":0.2},{"s":"2","t":578,"f":-0.25},{"s":"2","t":586,"f":0.3},{"s":"2","t":594,"f":0.6},{"s":"2","t":602,"f":0.2},{"s":"2","t":610,"f":-0.2},{"s":"2","t":618,"f":0.3},{"s":"2","t":626,"f":-0.25},{"s":"2","t":634,"f":0.2},{"s":"2","t":642,"f":-0.3},{"s":"2","t":650,"f":0.25},{"s":"2","t":658,"f":-0.2},{"s":"2","t":666,"f":0.3},{"s":"2","t":674,"f":-0.25},{"s":"2","t":682,"f":0.2},{"s":"2","t":690,"f":-0.3},{"s":"2","t":698,"f":0.25},{"s":"2","t":706,"f":-0.2},{"s":"2","t":714,"f":0.3},{"s":"2","t":722,"f":-0.25},{"s":"2","t":730,"f":0.2},{"s":"2","t":738,"f":-0.3},{"s":"2","t":746,"f":0.25},{"s":"2","t":754,"f":-0.2},{"s":"2","t":762,"f":0.3},{"s":"2","t":770,"f":-0.25},{"s":"2","t":778,"f":0.2},{"s":"2","t":786,"f":-0.3},{"s":"2","t":794,"f":0.25},{"s":"2","t":800,"f":0},
   {"s":"3","t":0,"f":0.85},{"s":"3","t":51,"f":0.8},{"s":"3","t":57,"f":-1.0},{"s":"3","t":72,"f":-1.7},{"s":"3","t":85,"f":-0.9},{"s":"3","t":94,"f":1.9},{"s":"3","t":112,"f":2.45},{"s":"3","t":118,"f":0.4},{"s":"3","t":130,"f":-0.4},{"s":"3","t":149,"f":-1.7},{"s":"3","t":161,"f":-1.3},{"s":"3","t":173,"f":1.9},{"s":"3","t":191,"f":2.45},{"s":"3","t":197,"f":0.8},{"s":"3","t":216,"f":0.7},{"s":"3","t":228,"f":-1.5},{"s":"3","t":240,"f":-1.1},{"s":"3","t":255,"f":1.9},{"s":"3","t":270,"f":2.45},{"s":"3","t":276,"f":0.8},{"s":"3","t":295,"f":0.6},{"s":"3","t":307,"f":-0.4},{"s":"3","t":316,"f":0.2},{"s":"3","t":322,"f":2.3},{"s":"3","t":337,"f":6.0},{"s":"3","t":352,"f":8.25},{"s":"3","t":358,"f":7.1},{"s":"3","t":377,"f":8.8},{"s":"3","t":383,"f":7.5},{"s":"3","t":392,"f":7.7},{"s":"3","t":404,"f":10.7},{"s":"3","t":410,"f":11.25},{"s":"3","t":419,"f":13.3},{"s":"3","t":432,"f":14.6},{"s":"3","t":438,"f":13.3},{"s":"3","t":453,"f":13.8},{"s":"3","t":462,"f":11.6},{"s":"3","t":474,"f":10.5},{"s":"3","t":480,"f":11.4},{"s":"3","t":492,"f":10.5},{"s":"3","t":499,"f":11.7},{"s":"3","t":511,"f":11.25},{"s":"3","t":517,"f":9.0},{"s":"3","t":535,"f":7.9},{"s":"3","t":544,"f":5.4},{"s":"3","t":553,"f":4.8},{"s":"3","t":563,"f":6.0},{"s":"3","t":572,"f":5.7},{"s":"3","t":578,"f":7.2},{"s":"3","t":593,"f":7.2},{"s":"3","t":599,"f":4.9},{"s":"3","t":614,"f":4.5},{"s":"3","t":630,"f":2.3},{"s":"3","t":636,"f":2.5},{"s":"3","t":648,"f":3.75},{"s":"3","t":654,"f":3.75},{"s":"3","t":660,"f":5.25},{"s":"3","t":675,"f":5.4},{"s":"3","t":681,"f":3.75},{"s":"3","t":696,"f":3.0},{"s":"3","t":706,"f":0.95},{"s":"3","t":715,"f":1.3},{"s":"3","t":724,"f":2.3},{"s":"3","t":740,"f":1.2},{"s":"3","t":770,"f":0.7},{"s":"3","t":800,"f":0.6},
   {"s":"4","t":0,"f":0},{"s":"4","t":50,"f":0},{"s":"4","t":70,"f":0.15},{"s":"4","t":100,"f":-0.1},{"s":"4","t":118,"f":0.3},{"s":"4","t":126,"f":-0.1},{"s":"4","t":140,"f":0.1},{"s":"4","t":200,"f":-0.1},{"s":"4","t":300,"f":0.1},{"s":"4","t":400,"f":-0.1},{"s":"4","t":500,"f":0.1},{"s":"4","t":600,"f":-0.1},{"s":"4","t":606,"f":0.35},{"s":"4","t":614,"f":0},{"s":"4","t":700,"f":0.1},{"s":"4","t":800,"f":0},
   {"s":"5","t":0,"f":0},{"s":"5","t":50,"f":0},{"s":"5","t":60,"f":-0.2},{"s":"5","t":72,"f":0.25},{"s":"5","t":84,"f":-0.15},{"s":"5","t":96,"f":0.2},{"s":"5","t":108,"f":-0.25},{"s":"5","t":120,"f":0.15},{"s":"5","t":132,"f":-0.2},{"s":"5","t":144,"f":0.25},{"s":"5","t":156,"f":-0.15},{"s":"5","t":168,"f":0.2},{"s":"5","t":180,"f":-0.25},{"s":"5","t":192,"f":0.15},{"s":"5","t":204,"f":-0.2},{"s":"5","t":216,"f":0.25},{"s":"5","t":228,"f":-0.15},{"s":"5","t":240,"f":0.2},{"s":"5","t":252,"f":-0.25},{"s":"5","t":264,"f":0.15},{"s":"5","t":276,"f":-0.2},{"s":"5","t":288,"f":0.25},{"s":"5","t":300,"f":-0.15},{"s":"5","t":312,"f":0.2},{"s":"5","t":324,"f":-0.25},{"s":"5","t":336,"f":0.15},{"s":"5","t":348,"f":-0.2},{"s":"5","t":360,"f":0.25},{"s":"5","t":372,"f":-0.15},{"s":"5","t":384,"f":0.2},{"s":"5","t":396,"f":-0.25},{"s":"5","t":408,"f":0.15},{"s":"5","t":420,"f":-0.2},{"s":"5","t":432,"f":0.25},{"s":"5","t":444,"f":-0.15},{"s":"5","t":456,"f":0.2},{"s":"5","t":468,"f":-0.25},{"s":"5","t":480,"f":0.15},{"s":"5","t":492,"f":-0.2},{"s":"5","t":504,"f":0.25},{"s":"5","t":516,"f":-0.15},{"s":"5","t":528,"f":0.2},{"s":"5","t":540,"f":-0.25},{"s":"5","t":552,"f":0.15},{"s":"5","t":564,"f":-0.2},{"s":"5","t":576,"f":0.25},{"s":"5","t":588,"f":-0.15},{"s":"5","t":600,"f":0.35},{"s":"5","t":612,"f":-0.2},{"s":"5","t":624,"f":0.25},{"s":"5","t":636,"f":-0.15},{"s":"5","t":648,"f":0.2},{"s":"5","t":660,"f":-0.25},{"s":"5","t":672,"f":0.15},{"s":"5","t":684,"f":-0.2},{"s":"5","t":696,"f":0.25},{"s":"5","t":708,"f":-0.15},{"s":"5","t":720,"f":0.2},{"s":"5","t":732,"f":-0.25},{"s":"5","t":744,"f":0.15},{"s":"5","t":756,"f":-0.2},{"s":"5","t":768,"f":0.25},{"s":"5","t":780,"f":-0.15},{"s":"5","t":792,"f":0.2},{"s":"5","t":800,"f":0},
   {"s":"6","t":0,"f":0},{"s":"6","t":50,"f":0},{"s":"6","t":60,"f":0.2},{"s":"6","t":70,"f":0},{"s":"6","t":100,"f":0.2},{"s":"6","t":110,"f":0.5},{"s":"6","t":116,"f":1.0},{"s":"6","t":120,"f":1.5},{"s":"6","t":126,"f":0.9},{"s":"6","t":132,"f":0.3},{"s":"6","t":140,"f":0},{"s":"6","t":170,"f":0.2},{"s":"6","t":180,"f":0},{"s":"6","t":240,"f":0.2},{"s":"6","t":250,"f":0},{"s":"6","t":300,"f":0.2},{"s":"6","t":310,"f":0},{"s":"6","t":380,"f":0.2},{"s":"6","t":390,"f":0},{"s":"6","t":470,"f":0.2},{"s":"6","t":480,"f":0},{"s":"6","t":560,"f":0.2},{"s":"6","t":570,"f":0},{"s":"6","t":590,"f":0},{"s":"6","t":596,"f":-0.5},{"s":"6","t":602,"f":-1.0},{"s":"6","t":610,"f":-0.9},{"s":"6","t":618,"f":-0.5},{"s":"6","t":624,"f":0},{"s":"6","t":680,"f":0.2},{"s":"6","t":690,"f":0},{"s":"6","t":800,"f":0},
   {"s":"7","t":0,"f":-0.55},{"s":"7","t":52,"f":-0.55},{"s":"7","t":54,"f":0.3},{"s":"7","t":69,"f":0.9},{"s":"7","t":79,"f":0.5},{"s":"7","t":88,"f":-1.2},{"s":"7","t":106,"f":-1.5},{"s":"7","t":118,"f":-0.7},{"s":"7","t":133,"f":0.5},{"s":"7","t":149,"f":0.8},{"s":"7","t":161,"f":0.3},{"s":"7","t":173,"f":-1.2},{"s":"7","t":191,"f":-1.7},{"s":"7","t":203,"f":-0.6},{"s":"7","t":219,"f":0.7},{"s":"7","t":231,"f":0.7},{"s":"7","t":243,"f":-1.0},{"s":"7","t":255,"f":-1.3},{"s":"7","t":270,"f":-1.7},{"s":"7","t":283,"f":-0.5},{"s":"7","t":301,"f":0.3},{"s":"7","t":313,"f":0.2},{"s":"7","t":325,"f":-1.5},{"s":"7","t":337,"f":-2.9},{"s":"7","t":349,"f":-3.9},{"s":"7","t":362,"f":-3.8},{"s":"7","t":377,"f":-3.9},{"s":"7","t":389,"f":-2.9},{"s":"7","t":401,"f":-3.5},{"s":"7","t":410,"f":-4.8},{"s":"7","t":428,"f":-6.3},{"s":"7","t":434,"f":-6.8},{"s":"7","t":447,"f":-5.9},{"s":"7","t":459,"f":-5.9},{"s":"7","t":471,"f":-4.3},{"s":"7","t":480,"f":-4.1},{"s":"7","t":493,"f":-4.8},{"s":"7","t":502,"f":-4.5},{"s":"7","t":508,"f":-5.3},{"s":"7","t":520,"f":-5.3},{"s":"7","t":532,"f":-4.0},{"s":"7","t":544,"f":-3.2},{"s":"7","t":556,"f":-2.0},{"s":"7","t":569,"f":-2.6},{"s":"7","t":581,"f":-3.5},{"s":"7","t":593,"f":-3.6},{"s":"7","t":602,"f":-2.5},{"s":"7","t":617,"f":-2.2},{"s":"7","t":633,"f":-0.8},{"s":"7","t":642,"f":-1.2},{"s":"7","t":654,"f":-2.2},{"s":"7","t":666,"f":-2.9},{"s":"7","t":678,"f":-2.1},{"s":"7","t":690,"f":-1.3},{"s":"7","t":706,"f":-0.1},{"s":"7","t":715,"f":-0.3},{"s":"7","t":727,"f":-1.3},{"s":"7","t":739,"f":-2.2},{"s":"7","t":751,"f":-2.6},{"s":"7","t":763,"f":-1.6},{"s":"7","t":800,"f":-1.2}
  ]
 },
 "vconcat": [
  {
   "bounds": "flush", "spacing": 63,
   "resolve": {"scale": {"color": "independent"}, "legend": {"color": "independent"}},
   "hconcat": [
    {
     "width": 438, "height": 222,
     "title": {"text": ["(a) Thruster forces used by the STA with adap-", "tive gains"], "anchor": "start", "dx": -6, "offset": 18},
     "layer": [
      {"data": {"name": "p1"}, "mark": {"type": "line", "clip": true},
       "encoding": {
        "x": {"field": "t", "type": "quantitative", "scale": {"domain": [0, 800], "nice": false, "zero": false}, "axis": {"orient": "bottom", "values": [0,100,200,300,400,500,600,700,800], "title": "Time [s]"}},
        "y": {"field": "f", "type": "quantitative", "scale": {"domain": [-15, 25], "nice": false, "zero": false}, "axis": {"orient": "left", "values": [-15,-10,-5,0,5,10,15,20,25], "title": "Force [N]"}},
        "color": {"field": "s", "type": "nominal", "scale": {"domain": ["1","2","3","4","5","6","7"], "range": ["#3a7dc9","#e0703a","#f2b53c","#8a4a9a","#7db84a","#5ec3ee","#bf3236"]}, "legend": {"labelExpr": "'\u03c4\u209c\u2095\u1d63,' + ['\u2081','\u2082','\u2083','\u2084','\u2085','\u2086','\u2087'][toNumber(datum.label) - 1]"}}
       }},
      {"data": {"values": [{"t": 0, "f": 0}]}, "mark": {"type": "point", "opacity": 0},
       "encoding": {
        "x": {"field": "t", "type": "quantitative", "axis": {"orient": "top", "labels": false, "title": null, "values": [0,100,200,300,400,500,600,700,800]}},
        "y": {"field": "f", "type": "quantitative", "axis": {"orient": "right", "labels": false, "title": null, "values": [-15,-10,-5,0,5,10,15,20,25]}}
       }}
     ],
     "resolve": {"axis": {"x": "independent", "y": "independent"}}
    },
    {
     "width": 438, "height": 222,
     "title": {"text": ["(a) Thruster forces used by the STA with adap-", "tive gains"], "anchor": "start", "dx": -31, "offset": 18},
     "layer": [
      {"data": {"name": "p2"}, "mark": {"type": "line", "clip": true},
       "encoding": {
        "x": {"field": "t", "type": "quantitative", "scale": {"domain": [0, 800], "nice": false, "zero": false}, "axis": {"orient": "bottom", "values": [0,100,200,300,400,500,600,700,800], "title": "Time [s]"}},
        "y": {"field": "f", "type": "quantitative", "scale": {"domain": [-15, 20], "nice": false, "zero": false}, "axis": {"orient": "left", "values": [-15,-10,-5,0,5,10,15,20], "title": "Force [N]"}},
        "color": {"field": "s", "type": "nominal", "scale": {"domain": ["1","2","3","4","5","6","7"], "range": ["#3a7dc9","#e0703a","#f2b53c","#8a4a9a","#7db84a","#5ec3ee","#bf3236"]}, "legend": {"labelExpr": "'\u03c4\u209c\u2095\u1d63,' + ['\u2081','\u2082','\u2083','\u2084','\u2085','\u2086','\u2087'][toNumber(datum.label) - 1]"}}
       }},
      {"data": {"values": [{"t": 0, "f": 0}]}, "mark": {"type": "point", "opacity": 0},
       "encoding": {
        "x": {"field": "t", "type": "quantitative", "axis": {"orient": "top", "labels": false, "title": null, "values": [0,100,200,300,400,500,600,700,800]}},
        "y": {"field": "f", "type": "quantitative", "axis": {"orient": "right", "labels": false, "title": null, "values": [-15,-10,-5,0,5,10,15,20]}}
       }}
     ],
     "resolve": {"axis": {"x": "independent", "y": "independent"}}
    }
   ]
  },
  {
   "bounds": "flush", "spacing": 63,
   "resolve": {"scale": {"color": "independent"}, "legend": {"color": "independent"}},
   "hconcat": [
    {
     "width": 438, "height": 223,
     "title": {"text": "(b) Thruster forces used by the GSTA", "anchor": "middle", "dx": 3},
     "layer": [
      {"data": {"name": "p3"}, "mark": {"type": "line", "clip": true},
       "encoding": {
        "x": {"field": "t", "type": "quantitative", "scale": {"domain": [0, 800], "nice": false, "zero": false}, "axis": {"orient": "bottom", "values": [0,100,200,300,400,500,600,700,800], "title": "Time [s]"}},
        "y": {"field": "f", "type": "quantitative", "scale": {"domain": [-10, 15], "nice": false, "zero": false}, "axis": {"orient": "left", "values": [-10,-5,0,5,10,15], "title": "Force [N]"}},
        "color": {"field": "s", "type": "nominal", "scale": {"domain": ["1","2","3","4","5","6","7"], "range": ["#3a7dc9","#e0703a","#f2b53c","#8a4a9a","#7db84a","#5ec3ee","#bf3236"]}, "legend": {"labelExpr": "'\u03c4\u209c\u2095\u1d63,' + ['\u2081','\u2082','\u2083','\u2084','\u2085','\u2086','\u2087'][toNumber(datum.label) - 1]"}}
       }},
      {"data": {"values": [{"t": 0, "f": 0}]}, "mark": {"type": "point", "opacity": 0},
       "encoding": {
        "x": {"field": "t", "type": "quantitative", "axis": {"orient": "top", "labels": false, "title": null, "values": [0,100,200,300,400,500,600,700,800]}},
        "y": {"field": "f", "type": "quantitative", "axis": {"orient": "right", "labels": false, "title": null, "values": [-10,-5,0,5,10,15]}}
       }}
     ],
     "resolve": {"axis": {"x": "independent", "y": "independent"}}
    },
    {
     "width": 438, "height": 222,
     "title": {"text": "(b) Thruster forces used by the GSTA", "anchor": "middle", "dx": -22},
     "layer": [
      {"data": {"name": "p4"}, "mark": {"type": "line", "clip": true},
       "encoding": {
        "x": {"field": "t", "type": "quantitative", "scale": {"domain": [0, 800], "nice": false, "zero": false}, "axis": {"orient": "bottom", "values": [0,100,200,300,400,500,600,700,800], "title": "Time [s]"}},
        "y": {"field": "f", "type": "quantitative", "scale": {"domain": [-10, 17], "nice": false, "zero": false}, "axis": {"orient": "left", "values": [-10,-5,0,5,10,15], "title": "Force [N]"}},
        "color": {"field": "s", "type": "nominal", "scale": {"domain": ["1","2","3","4","5","6","7"], "range": ["#3a7dc9","#e0703a","#f2b53c","#8a4a9a","#7db84a","#5ec3ee","#bf3236"]}, "legend": {"labelExpr": "'\u03c4\u209c\u2095\u1d63,' + ['\u2081','\u2082','\u2083','\u2084','\u2085','\u2086','\u2087'][toNumber(datum.label) - 1]"}}
       }},
      {"data": {"values": [{"t": 0, "f": 0}]}, "mark": {"type": "point", "opacity": 0},
       "encoding": {
        "x": {"field": "t", "type": "quantitative", "axis": {"orient": "top", "labels": false, "title": null, "values": [0,100,200,300,400,500,600,700,800]}},
        "y": {"field": "f", "type": "quantitative", "axis": {"orient": "right", "labels": false, "title": null, "values": [-10,-5,0,5,10,15]}}
       }}
     ],
     "resolve": {"axis": {"x": "independent", "y": "independent"}}
    }
   ]
  },
  {
   "bounds": "flush", "spacing": 63,
   "resolve": {"scale": {"color": "independent"}, "legend": {"color": "independent"}},
   "hconcat": [
    {
     "width": 438, "height": 222,
     "title": {"text": "(c) Thruster forces used by the PID controller", "anchor": "start", "dx": -6},
     "layer": [
      {
       "data": {"name": "p5"},
       "encoding": {
        "x": {"field": "t", "type": "quantitative", "scale": {"domain": [0, 800], "nice": false, "zero": false}, "axis": {"orient": "bottom", "values": [0,100,200,300,400,500,600,700,800], "title": "Time [s]"}},
        "y": {"field": "f", "type": "quantitative", "scale": {"domain": [-10, 15], "nice": false, "zero": false}, "axis": {"orient": "left", "values": [-10,-5,0,5,10,15], "title": "Force [N]"}},
        "color": {"field": "s", "type": "nominal", "scale": {"domain": ["1","2","3","4","5","6","7"], "range": ["#2f74c4","#e0703a","#f2b53c","#8a4a9a","#7db84a","#5ec3ee","#b02a30"]}, "legend": {"labelExpr": "'\u03c4\u209c\u2095\u1d63,' + ['\u2081','\u2082','\u2083','\u2084','\u2085','\u2086','\u2087'][toNumber(datum.label) - 1]"}}
       },
       "layer": [
        {"transform": [{"filter": "datum.s !== '1' && datum.s !== '7'"}], "mark": {"type": "line", "clip": true, "strokeWidth": 1.2}},
        {"transform": [{"filter": "datum.s === '1' || datum.s === '7'"}], "mark": {"type": "line", "clip": true, "strokeWidth": 2.2}}
       ]
      },
      {"data": {"values": [{"t": 0, "f": 0}]}, "mark": {"type": "point", "opacity": 0},
       "encoding": {
        "x": {"field": "t", "type": "quantitative", "axis": {"orient": "top", "labels": false, "title": null, "values": [0,100,200,300,400,500,600,700,800]}},
        "y": {"field": "f", "type": "quantitative", "axis": {"orient": "right", "labels": false, "title": null, "values": [-10,-5,0,5,10,15]}}
       }}
     ],
     "resolve": {"axis": {"x": "independent", "y": "independent"}}
    },
    {
     "width": 438, "height": 222,
     "title": {"text": "(c) Thruster forces used by the PID controller", "anchor": "start", "dx": -30},
     "layer": [
      {
       "data": {"name": "p6"},
       "encoding": {
        "x": {"field": "t", "type": "quantitative", "scale": {"domain": [0, 800], "nice": false, "zero": false}, "axis": {"orient": "bottom", "values": [0,100,200,300,400,500,600,700,800], "title": "Time [s]"}},
        "y": {"field": "f", "type": "quantitative", "scale": {"domain": [-10, 15], "nice": false, "zero": false}, "axis": {"orient": "left", "values": [-10,-5,0,5,10,15], "title": "Force [N]"}},
        "color": {"field": "s", "type": "nominal", "scale": {"domain": ["1","2","3","4","5","6","7"], "range": ["#2f74c4","#e0703a","#f2b53c","#8a4a9a","#7db84a","#5ec3ee","#b02a30"]}, "legend": {"labelExpr": "'\u03c4\u209c\u2095\u1d63,' + ['\u2081','\u2082','\u2083','\u2084','\u2085','\u2086','\u2087'][toNumber(datum.label) - 1]"}}
       },
       "layer": [
        {"transform": [{"filter": "datum.s !== '7'"}], "mark": {"type": "line", "clip": true, "strokeWidth": 1.4}},
        {"transform": [{"filter": "datum.s === '7'"}], "mark": {"type": "line", "clip": true, "strokeWidth": 2.2}}
       ]
      },
      {"data": {"values": [{"t": 0, "f": 0}]}, "mark": {"type": "point", "opacity": 0},
       "encoding": {
        "x": {"field": "t", "type": "quantitative", "axis": {"orient": "top", "labels": false, "title": null, "values": [0,100,200,300,400,500,600,700,800]}},
        "y": {"field": "f", "type": "quantitative", "axis": {"orient": "right", "labels": false, "title": null, "values": [-10,-5,0,5,10,15]}}
       }}
     ],
     "resolve": {"axis": {"x": "independent", "y": "independent"}}
    }
   ]
  }
 ]
}
